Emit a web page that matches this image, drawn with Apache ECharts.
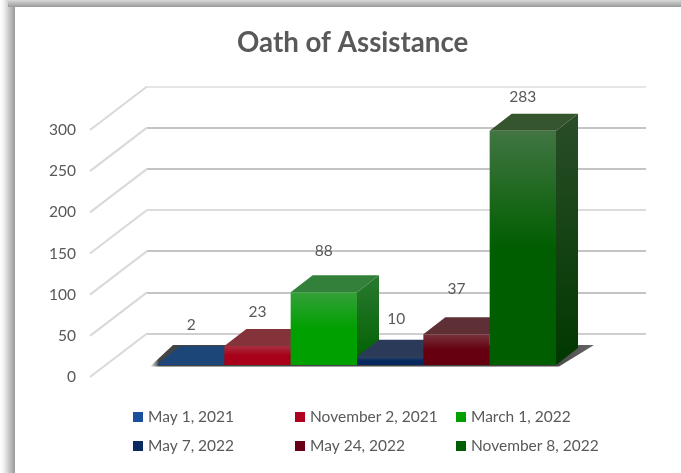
<!DOCTYPE html>
<html>
<head>
<meta charset="utf-8">
<style>html,body{margin:0;padding:0;background:#fff}#c{width:681px;height:473px}</style>
<script src="https://cdn.jsdelivr.net/npm/echarts@6/dist/echarts.min.js"></script>
</head>
<body>
<div id="c"></div>
<script>
var titleText = 'Oath of Assistance';
var categories = ['May 1, 2021', 'November 2, 2021', 'March 1, 2022', 'May 7, 2022', 'May 24, 2022', 'November 8, 2022'];
var values = [2, 23, 88, 10, 37, 283];
var yTicks = [0, 50, 100, 150, 200, 250, 300];

var legendSwatch = ['#1a4f9c', '#b00020', '#00a000', '#0a2a60', '#6a0015', '#005e00'];
var frontLight = ['#1f4a80', '#a83040', '#35a03a', '#2e4468', '#74323a', '#427543'];
var frontDark = ['#134284', '#a80018', '#00a000', '#06285e', '#660010', '#005e00'];
var topFace = ['#1c4578', '#85333a', '#33803a', '#2b3a58', '#5e3035', '#35552f'];
var sideLight = ['#1c4578', '#85333a', '#2a7a30', '#2b3a58', '#5e3035', '#2a4d28'];
var sideDark = ['#0c3060', '#700015', '#006000', '#051e48', '#480010', '#003800'];
var labelRise = [38, 34, 41, 38, 45, 34];
var labelShift = [0, 0, 0, 6, 0, 0];
var wallLineColors = ['#cfcfcf', '#c4c4c4', '#c4c4c4', '#dcdcdc', '#c4c4c4', '#c4c4c4', '#e6e6e6'];

var DX = 22, DY = 17;
var textColor = '#595959';
var font = 'Lato, Carlito, sans-serif';

function vGrad(a, b, stop) {
  return { type: 'linear', x: 0, y: 0, x2: 0, y2: 1, colorStops: [
    { offset: 0, color: a }, { offset: stop, color: b }, { offset: 1, color: b }
  ]};
}

function barSeries(i) {
  return {
    type: 'custom', name: categories[i], coordinateSystem: 'cartesian2d',
    xAxisIndex: 0, yAxisIndex: 0, z: 5 + i, silent: true,
    itemStyle: { color: legendSwatch[i] },
    encode: { x: 0, y: 1 },
    data: [[categories[i], values[i]]],
    renderItem: function (params, api) {
      var c = api.coord([api.value(0), api.value(1)]);
      var base = api.coord([api.value(0), 0]);
      var w = api.size([1, 0])[0];
      var x0 = c[0] - w / 2, x1 = c[0] + w / 2, yt = c[1], yb = base[1];
      return { type: 'group', children: [
        { type: 'polygon', shape: { points: [[x1, yt], [x1 + DX, yt - DY], [x1 + DX, yb - DY], [x1, yb]] },
          style: { fill: vGrad(sideLight[i], sideDark[i], 1) } },
        { type: 'polygon', shape: { points: [[x0, yt], [x0 + DX, yt - DY], [x1 + DX, yt - DY], [x1, yt]] },
          style: { fill: topFace[i] } },
        { type: 'rect', shape: { x: x0, y: yt, width: w, height: yb - yt },
          style: { fill: vGrad(frontLight[i], frontDark[i], 0.5) } },
        { type: 'text', z2: 50, style: { text: String(values[i]), x: c[0] + labelShift[i], y: yt - labelRise[i],
          fill: textColor, font: '15.5px ' + font, textAlign: 'center', textVerticalAlign: 'middle' } }
      ]};
    }
  };
}

var series = [
  { type: 'custom', xAxisIndex: 2, yAxisIndex: 2, data: [], renderItem: function () { return null; }, silent: true },
  { type: 'custom', xAxisIndex: 1, yAxisIndex: 1, silent: true, z: 2, legendHoverLink: false,
    data: yTicks.map(function (t) { return [0, t]; }),
    renderItem: function (params, api) {
      var a = api.coord([0, api.value(1)]);
      var b = api.coord([1, api.value(1)]);
      return { type: 'line', shape: { x1: a[0], y1: a[1], x2: b[0], y2: a[1] - 43.5 },
        style: { stroke: '#d9d9d9', lineWidth: 2 } };
    } },
  { type: 'custom', xAxisIndex: 0, yAxisIndex: 0, silent: true, z: 3,
    data: [[categories[0], 0]],
    renderItem: function (params, api) {
      var w = api.size([1, 0])[0];
      var first = api.coord([categories[0], 0]);
      var last = api.coord([categories[categories.length - 1], 0]);
      var x0 = first[0] - w / 2, x1 = last[0] + w / 2, y = first[1];
      return { type: 'polygon',
        shape: { points: [[x0 - 8, y + 1.5], [x1 + 3, y + 1.5], [x1 + 38, y - 20], [x0 + 15, y - 20]] },
        style: { fill: { type: 'linear', x: 0, y: 0, x2: 1, y2: 0, colorStops: [
          { offset: 0, color: 'rgba(70,70,70,0)' }, { offset: 0.02, color: '#444' },
          { offset: 0.9, color: '#444' }, { offset: 1, color: '#666' } ] } } };
    } }
].concat(categories.map(function (_, i) { return barSeries(i); }));

function legendCol(names, left) {
  return { show: true, orient: 'vertical', left: left, top: 409, itemWidth: 10, itemHeight: 10, itemGap: 13,
    selectedMode: false, icon: 'rect', padding: 0,
    textStyle: { color: textColor, fontSize: 15.5, fontFamily: font },
    itemStyle: { borderWidth: 0 }, data: names };
}

var chart = echarts.init(document.getElementById('c'), null, { renderer: 'canvas' });
chart.setOption({
  animation: false,
  backgroundColor: '#fff',
  title: { text: titleText, left: 237, top: 29, padding: 0,
    textStyle: { color: textColor, fontSize: 27.7, fontWeight: 'bold', fontFamily: font } },
  legend: [
    legendCol([categories[0], categories[3]], 133),
    legendCol([categories[1], categories[4]], 295),
    legendCol([categories[2], categories[5]], 456)
  ],
  grid: [
    { left: 158, width: 398, top: 116.6, height: 248.4 },
    { left: 90, width: 57, top: 130, height: 247 },
    { left: 147, width: 499, top: 86.5, height: 247 }
  ],
  xAxis: [
    { gridIndex: 0, type: 'category', data: categories, show: false },
    { gridIndex: 1, type: 'value', min: 0, max: 1, show: false },
    { gridIndex: 2, type: 'value', min: 0, max: 1, show: false }
  ],
  yAxis: [
    { gridIndex: 0, type: 'value', min: 0, max: 300, interval: 50, show: false },
    { gridIndex: 1, type: 'value', min: 0, max: 300, interval: 50, position: 'left',
      axisLine: { show: false }, axisTick: { show: false }, splitLine: { show: false },
      axisLabel: { color: textColor, fontSize: 15.5, fontFamily: font, margin: 14, padding: [3, 0, 0, 0] } },
    { gridIndex: 2, type: 'value', min: 0, max: 300, interval: 50,
      axisLine: { show: false }, axisTick: { show: false }, axisLabel: { show: false },
      splitLine: { show: true, lineStyle: { color: wallLineColors, width: 2 } } }
  ],
  graphic: [
    { type: 'rect', z: -1, silent: true, shape: { x: 0, y: 0, width: 15, height: 473 },
      style: { fill: { type: 'linear', x: 0, y: 0, x2: 1, y2: 0, colorStops: [
        { offset: 0, color: '#ffffff' }, { offset: 0.25, color: '#f2f2f2' }, { offset: 1, color: '#999999' } ] } } },
    { type: 'rect', z: -1, silent: true, shape: { x: 8, y: 0, width: 673, height: 7 },
      style: { fill: { type: 'linear', x: 0, y: 0, x2: 0, y2: 1, colorStops: [
        { offset: 0, color: '#d8d8d8' }, { offset: 1, color: '#9a9a9a' } ] } } }
  ],
  series: series
});
</script>
</body>
</html>
